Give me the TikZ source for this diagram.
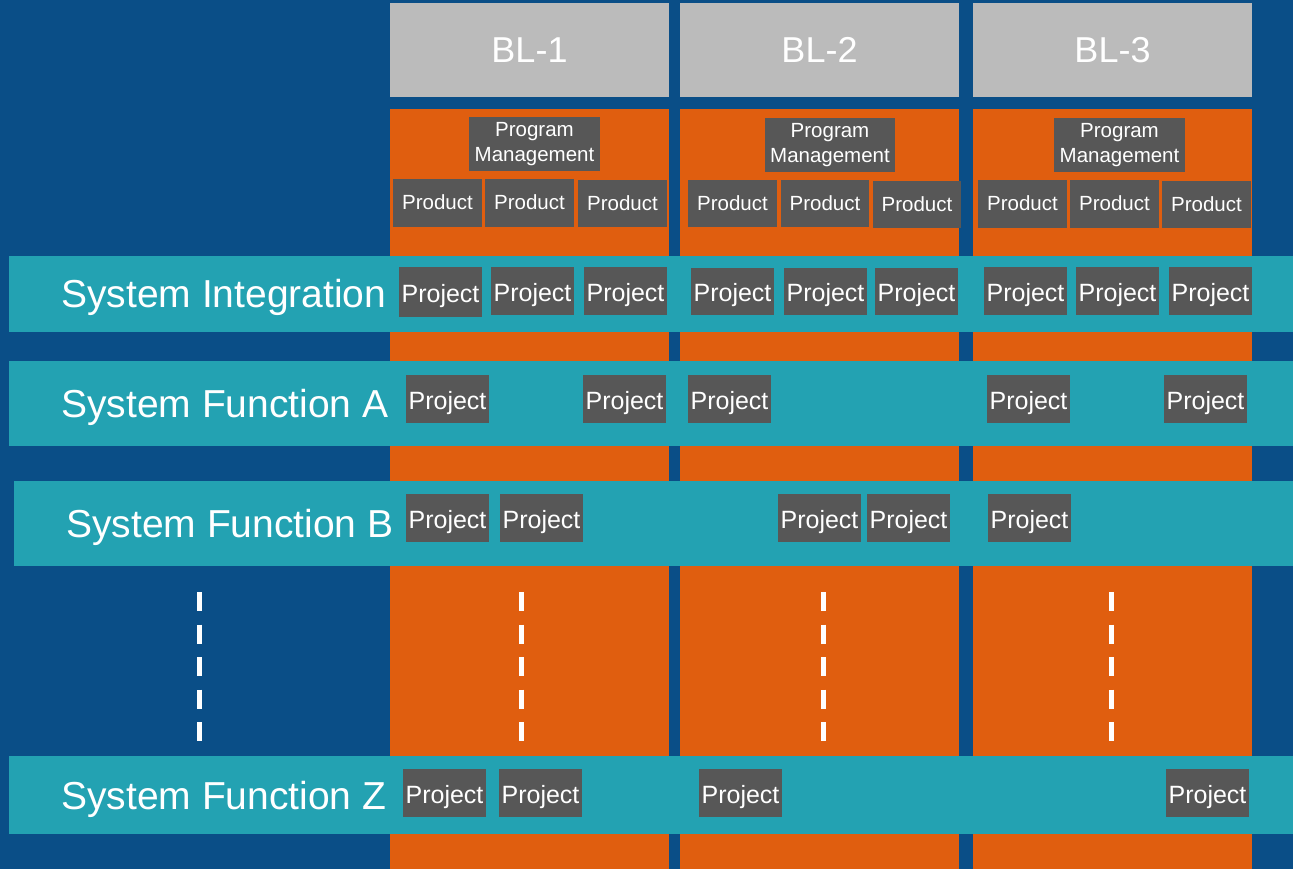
\documentclass[tikz,border=0pt]{standalone}
\usepackage{fontspec}
\setmainfont{Liberation Sans}
\definecolor{navy}{HTML}{0A4E87}
\definecolor{blorange}{HTML}{E05E0F}
\definecolor{bandteal}{HTML}{23A2B2}
\definecolor{boxgray}{HTML}{575757}
\definecolor{hdrgray}{HTML}{BBBBBB}
% rectangle given by its corners (x1,y1)-(x2,y2), in pixel units
\newcommand\blk[7]{%
  \node[#1, minimum width={#5-#3}, minimum height={#6-#4}] (#2)
    at ({(#3+#5)/2},{(#4+#6)/2}) {#7};}
\tikzset{
  base/.style={rectangle, inner sep=0pt, outer sep=0pt, text=white},
  colbox/.style={base, fill=blorange},
  hdrbox/.style={base, fill=hdrgray, font=\fontsize{36}{43}\selectfont, text height=26pt, text depth=0pt},
  bandbox/.style={base, fill=bandteal},
  projbox/.style={base, fill=boxgray, font=\fontsize{25}{30}\selectfont, text height=20pt, text depth=0pt},
  prodbox/.style={base, fill=boxgray, font=\fontsize{20.5}{25}\selectfont, text height=14pt, text depth=0pt},
  pmbox/.style={base, fill=boxgray, font=\fontsize{20.5}{25.5}\selectfont, align=center},
  rowlabel/.style={inner sep=0pt, text=white, anchor=base west, font=\fontsize{39}{47}\selectfont},
  dashline/.style={draw=white, line width=5pt, dash pattern=on 19pt off 13.5pt},
}
\begin{document}
\begin{tikzpicture}[x=1pt,y=-1pt]
\useasboundingbox (0,0) rectangle (1293,869);
\fill[navy] (0,0) rectangle (1293,869);

% baseline headers
\blk{hdrbox}{h1}{390}{3}{669}{97}{BL-1}
\blk{hdrbox}{h2}{680}{3}{959}{97}{BL-2}
\blk{hdrbox}{h3}{973}{3}{1252}{97}{BL-3}

% baseline columns
\blk{colbox}{c1}{390}{109}{669}{869}{}
\blk{colbox}{c2}{680}{109}{959}{869}{}
\blk{colbox}{c3}{973}{109}{1252}{869}{}

% program management
\blk{pmbox}{pm1}{469}{117}{600}{171}{Program\\Management}
\blk{pmbox}{pm2}{765}{118}{895}{172}{Program\\Management}
\blk{pmbox}{pm3}{1054}{118}{1185}{172}{Program\\Management}

% products
\blk{prodbox}{p11}{393}{179}{482}{227}{Product}
\blk{prodbox}{p12}{485}{179}{574}{227}{Product}
\blk{prodbox}{p13}{578}{180}{667}{227}{Product}
\blk{prodbox}{p21}{688}{180}{777}{227}{Product}
\blk{prodbox}{p22}{781}{180}{869}{227}{Product}
\blk{prodbox}{p23}{873}{181}{961}{228}{Product}
\blk{prodbox}{p31}{978}{180}{1067}{228}{Product}
\blk{prodbox}{p32}{1070}{180}{1159}{228}{Product}
\blk{prodbox}{p33}{1162}{181}{1251}{228}{Product}

% system bands
\blk{bandbox}{si}{9}{256}{1293}{332}{}
\blk{bandbox}{sfa}{9}{361}{1293}{446}{}
\blk{bandbox}{sfb}{14}{481}{1293}{566}{}
\blk{bandbox}{sfz}{9}{756}{1293}{834}{}

\node[rowlabel] (lsi) at (61,307) {System Integration};
\node[rowlabel] (lsfa) at (61,417) {System Function A};
\node[rowlabel] (lsfb) at (66,537) {System Function B};
\node[rowlabel] (lsfz) at (61,809) {System Function Z};

% projects: system integration
\blk{projbox}{si1}{399}{267}{482}{317}{Project}
\blk{projbox}{si2}{491}{267}{574}{315}{Project}
\blk{projbox}{si3}{584}{267}{667}{315}{Project}
\blk{projbox}{si4}{691}{268}{774}{315}{Project}
\blk{projbox}{si5}{784}{268}{867}{315}{Project}
\blk{projbox}{si6}{875}{268}{958}{315}{Project}
\blk{projbox}{si7}{984}{267}{1067}{315}{Project}
\blk{projbox}{si8}{1076}{267}{1159}{315}{Project}
\blk{projbox}{si9}{1169}{267}{1252}{315}{Project}

% projects: function A
\blk{projbox}{a1}{406}{375}{489}{423}{Project}
\blk{projbox}{a2}{583}{375}{666}{423}{Project}
\blk{projbox}{a3}{688}{375}{771}{423}{Project}
\blk{projbox}{a4}{987}{375}{1070}{423}{Project}
\blk{projbox}{a5}{1164}{375}{1247}{423}{Project}

% projects: function B
\blk{projbox}{b1}{406}{494}{489}{542}{Project}
\blk{projbox}{b2}{500}{494}{583}{542}{Project}
\blk{projbox}{b3}{778}{494}{861}{542}{Project}
\blk{projbox}{b4}{867}{494}{950}{542}{Project}
\blk{projbox}{b5}{988}{494}{1071}{542}{Project}

% projects: function Z
\blk{projbox}{z1}{403}{769}{486}{817}{Project}
\blk{projbox}{z2}{499}{769}{582}{817}{Project}
\blk{projbox}{z3}{699}{769}{782}{817}{Project}
\blk{projbox}{z4}{1166}{769}{1249}{817}{Project}

% continuation marks
\foreach \i/\x in {0/199.5,1/521.5,2/823,3/1111} {
  \coordinate (dt\i) at (\x,592);
  \coordinate (db\i) at (\x,741);
  \draw[dashline] (dt\i) -- (db\i);
}
\end{tikzpicture}
\end{document}
